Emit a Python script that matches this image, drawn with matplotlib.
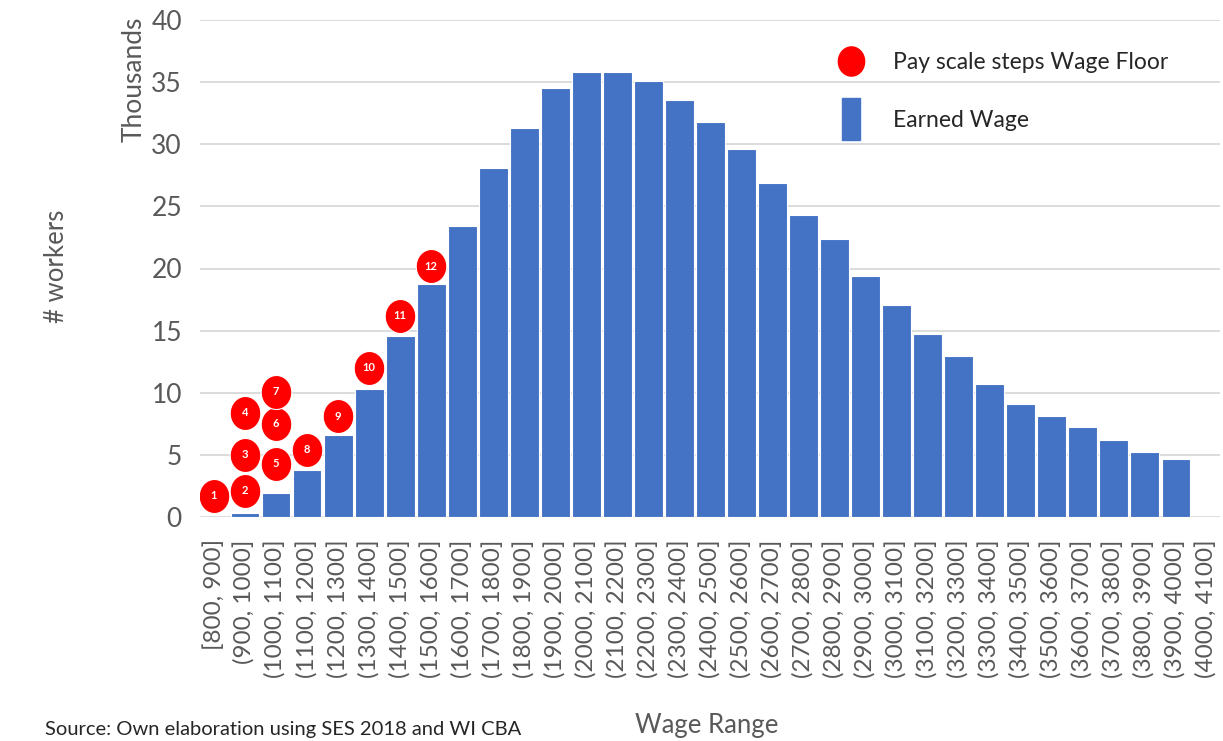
import numpy as np
import matplotlib
matplotlib.use("Agg")
import matplotlib.pyplot as plt
from matplotlib.path import Path
from matplotlib.lines import Line2D

plt.rcParams['font.family'] = ['Lato', 'DejaVu Sans']

# wage bins (lower bound) and number of workers, in thousands
bin_low = list(range(800, 4100, 100))
workers_k = [0, 0.3, 1.9, 3.75, 6.6, 10.3, 14.6, 18.75, 23.4, 28.1, 31.3, 34.5,
             35.8, 35.8, 35.1, 33.6, 31.8, 29.6, 26.9, 24.3, 22.4, 19.4, 17.1,
             14.74, 12.94, 10.7, 9.08, 8.09, 7.22, 6.2, 5.26, 4.64, 0]

labels = []
for lo in bin_low:
    if lo == 800:
        labels.append('[%d, %d]' % (lo, lo + 100))
    else:
        labels.append('(%d, %d]' % (lo, lo + 100))

# pay scale steps (wage floor): bin index, height (thousands)
step_no = [1, 2, 3, 4, 5, 6, 7, 8, 9, 10, 11, 12]
step_bin = [0, 1, 1, 1, 2, 2, 2, 3, 4, 5, 6, 7]
step_val = [1.7, 2.1, 5.0, 8.4, 4.3, 7.5, 10.1, 5.4, 8.1, 12.0, 16.2, 20.2]

blue = '#4472C4'
red = '#FF0000'
grey = '#595959'

# slightly tall ellipse and a narrow bar for markers
t = np.linspace(0, 2*np.pi, 60)
ellipse = Path(np.column_stack([0.45*np.cos(t), 0.5*np.sin(t)]), closed=True)
tallbar = Path([(-0.21, -0.5), (0.21, -0.5), (0.21, 0.5), (-0.21, 0.5), (-0.21, -0.5)], closed=True)

fig = plt.figure(figsize=(12.23, 7.41), dpi=100)
ax = fig.add_axes([200/1223, 1-517/741, 1020/1223, 497/741])

x = np.arange(len(labels))
ax.bar(x, workers_k, width=0.93, color=blue, edgecolor='white', linewidth=0.8, zorder=2)

ax.plot([x[i] for i in step_bin], step_val, linestyle='none', marker=ellipse,
        markersize=24.5, color=red, markeredgecolor='white', markeredgewidth=0.8, zorder=3)
for n, i, v in zip(step_no, step_bin, step_val):
    ax.text(x[i], v, str(n), color='white', fontsize=8, fontweight='bold',
            ha='center', va='center', zorder=4)

ax.set_xlim(-0.45, 32.42)
ax.set_ylim(0, 40)
ax.set_yticks(range(0, 41, 5))
ax.set_xticks(x)
ax.set_xticklabels(labels, rotation=90, fontsize=17.5, color=grey)
ax.tick_params(axis='y', labelsize=19, labelcolor=grey, length=0, pad=13)
ax.tick_params(axis='x', length=0, pad=16)
ax.grid(axis='y', color='#D9D9D9', linewidth=1.3, zorder=0)
ax.set_axisbelow(True)
for s in ax.spines.values():
    s.set_visible(False)

handles = [Line2D([], [], linestyle='none', marker=ellipse, markersize=21, color=red),
           Line2D([], [], linestyle='none', marker=tallbar, markersize=30, color=blue)]
ax.legend(handles, ['Pay scale steps Wage Floor', 'Earned Wage'], loc='upper left',
          bbox_to_anchor=(0.610, 0.958), frameon=False, fontsize=16.5,
          handlelength=1.5, handletextpad=1.1, labelspacing=1.6, borderpad=0,
          labelcolor='#262626')

fig.text(134/1223, 1-17/741, 'Thousands', rotation=90, ha='center', va='top',
         fontsize=19, color=grey)
fig.text(57/1223, 1-266/741, '# workers', rotation=90, ha='center', va='center',
         fontsize=18.5, color=grey)
fig.text(707/1223, 1-725/741, 'Wage Range', ha='center', va='center',
         fontsize=18.5, color=grey)
fig.text(45/1223, 1-730/741, 'Source: Own elaboration using SES 2018 and WI CBA',
         ha='left', va='center', fontsize=14.5, color='#262626')

fig.savefig('out.png', dpi=100)
